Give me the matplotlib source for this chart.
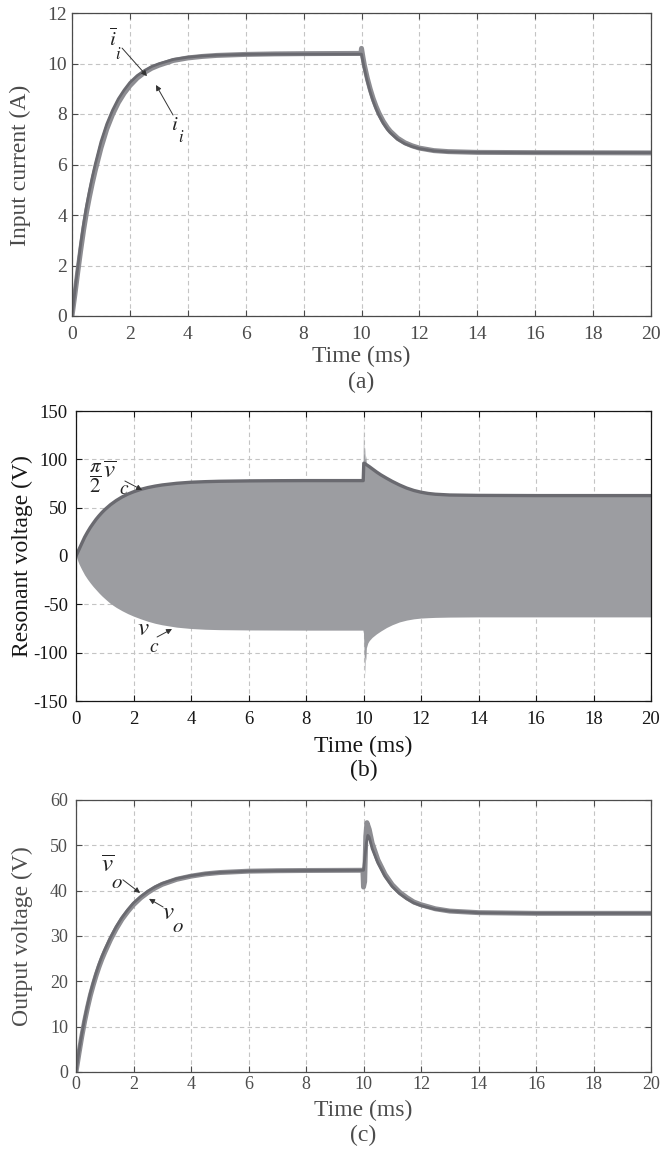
import matplotlib.pyplot as plt

plt.rcParams['font.family'] = ['Liberation Serif', 'DejaVu Serif']
plt.rcParams['mathtext.fontset'] = 'stix'
plt.rcParams['axes.unicode_minus'] = False

# ---- (a) input current, A ----
t_ia_mean = [0, 0.1, 0.2, 0.3, 0.4, 0.5, 0.6, 0.7, 0.8, 0.9, 1.0, 1.2, 1.4, 1.6, 1.8, 2.0, 2.25, 2.5,
             2.75, 3.0, 3.5, 4.0, 4.5, 5.0, 6.0, 7.0, 8.0, 10.0,
             10.05, 10.1, 10.2, 10.3, 10.4, 10.5, 10.6, 10.75, 10.9, 11.0, 11.25, 11.5, 11.75, 12.0,
             12.5, 13.0, 14.0, 16.0, 20.0]
ia_mean = [0, 1.0, 1.95, 2.85, 3.65, 4.35, 4.95, 5.5, 6.0, 6.45, 6.9, 7.6, 8.15, 8.6, 8.95, 9.25, 9.52,
           9.72, 9.88, 9.99, 10.16, 10.25, 10.3, 10.33, 10.36, 10.37, 10.37, 10.37,
           10.07, 9.79, 9.29, 8.87, 8.51, 8.21, 7.95, 7.63, 7.38, 7.25, 6.99, 6.82, 6.71, 6.63,
           6.54, 6.5, 6.48, 6.47, 6.47]
t_ia = [0, 0.1, 0.2, 0.3, 0.4, 0.5, 0.6, 0.7, 0.8, 0.9, 1.0, 1.2, 1.4, 1.6, 1.8, 2.0, 2.25, 2.5,
        2.75, 3.0, 3.5, 4.0, 4.5, 5.0, 6.0, 7.0, 8.0, 9.98,
        10.0, 10.05, 10.1, 10.2, 10.3, 10.4, 10.5, 10.6, 10.75, 10.9, 11.0, 11.25, 11.5, 11.75, 12.0,
        12.5, 13.0, 14.0, 16.0, 20.0]
ia = [0, 0.85, 1.75, 2.6, 3.4, 4.1, 4.7, 5.25, 5.75, 6.2, 6.65, 7.4, 7.98, 8.45, 8.82, 9.12, 9.42,
      9.64, 9.81, 9.93, 10.12, 10.22, 10.28, 10.32, 10.36, 10.38, 10.39, 10.4,
      10.6, 10.25, 9.93, 9.42, 8.99, 8.62, 8.31, 8.04, 7.71, 7.45, 7.31, 7.04, 6.86, 6.74, 6.65,
      6.55, 6.51, 6.48, 6.47, 6.46]

# ---- (b) resonant voltage, V ----
t_vc_env = [0, 0.1, 0.2, 0.3, 0.4, 0.5, 0.6, 0.7, 0.8, 0.9, 1.0, 1.2, 1.4, 1.6, 1.8, 2.0, 2.25, 2.5,
            2.75, 3.0, 3.5, 4.0, 4.5, 5.0, 6.0, 7.0, 8.0, 9.98,
            10.0, 10.02, 10.04, 10.06, 10.08, 10.1, 10.15, 10.2, 10.3, 10.45, 10.6, 10.8, 11.0,
            11.25, 11.5, 11.75, 12.0, 12.25, 12.5, 13.0, 14.0, 16.0, 20.0]
vc_upper = [0, 6.5, 13, 19.4, 24.7, 29.6, 33.9, 38, 41.6, 44.9, 47.9, 53.1, 57.4, 61, 64, 66.4, 68.9,
            70.8, 72.3, 73.5, 75.2, 76.3, 76.9, 77.3, 77.7, 77.9, 78, 78,
            134, 104, 113, 99, 104, 94.5, 93.5, 92.5, 90.3, 87, 84, 80.5, 77.2,
            73.5, 70.3, 67.8, 66, 64.7, 63.9, 63.1, 62.7, 62.5, 62.5]
vc_lower = [0, -8, -14, -19.5, -24, -28, -31.7, -35, -38.3, -41.3, -44, -49.2, -53.2, -56.6, -59.6,
            -62.2, -65, -67.5, -69.6, -71.2, -73.6, -75, -75.8, -76.2, -76.5, -76.6, -76.7, -76.7,
            -80, -100, -123, -104, -108, -95, -90, -87.5, -84.2, -80.6, -77.6, -74, -71.1,
            -68.2, -66.3, -65, -64.2, -63.8, -63.5, -63.2, -63, -63, -63]
t_vc_mean = [0, 0.1, 0.2, 0.3, 0.4, 0.5, 0.6, 0.7, 0.8, 0.9, 1.0, 1.2, 1.4, 1.6, 1.8, 2.0, 2.25, 2.5,
             2.75, 3.0, 3.5, 4.0, 4.5, 5.0, 6.0, 7.0, 8.0,
             9.99, 10.01, 10.05, 10.1, 10.2, 10.3, 10.45, 10.6, 10.8, 11.0, 11.25, 11.5, 11.75, 12.0,
             12.25, 12.5, 13.0, 14.0, 16.0, 20.0]
vc_mean = [0, 6.5, 13, 19.4, 24.7, 29.6, 33.9, 38, 41.6, 44.9, 47.9, 53.1, 57.4, 61, 64, 66.4, 68.9,
           70.8, 72.3, 73.5, 75.2, 76.3, 76.9, 77.3, 77.7, 77.9, 78,
           78, 96, 95.5, 94.5, 92.5, 90.3, 87, 84, 80.5, 77.2, 73.5, 70.3, 67.8, 66,
           64.7, 63.9, 63.1, 62.7, 62.5, 62.5]

# ---- (c) output voltage, V ----
t_vo_mean = [0, 0.1, 0.2, 0.3, 0.4, 0.5, 0.6, 0.7, 0.8, 0.9, 1.0, 1.2, 1.4, 1.6, 1.8, 2.0, 2.25, 2.5,
             2.75, 3.0, 3.5, 4.0, 4.5, 5.0, 6.0, 7.0, 8.0, 10.0,
             10.05, 10.1, 10.15, 10.2, 10.3, 10.5, 10.75, 11.0, 11.25, 11.5, 11.75, 12.0, 12.5,
             13.0, 14.0, 16.0, 20.0]
vo_mean = [0, 4.5, 8.3, 11.8, 14.8, 17.5, 19.8, 21.9, 23.8, 25.5, 27.0, 29.7, 32.1, 34.1, 35.8, 37.3,
           38.7, 39.9, 40.85, 41.6, 42.65, 43.3, 43.76, 44.03, 44.3, 44.4, 44.45, 44.5,
           47.5, 50.5, 52.2, 51.8, 49.3, 46.1, 43.1, 40.9, 39.35, 38.2, 37.3, 36.7, 35.9,
           35.5, 35.14, 35.0, 35.0]
t_vo = [0, 0.1, 0.2, 0.3, 0.4, 0.5, 0.6, 0.7, 0.8, 0.9, 1.0, 1.2, 1.4, 1.6, 1.8, 2.0, 2.25, 2.5,
        2.75, 3.0, 3.5, 4.0, 4.5, 5.0, 6.0, 7.0, 8.0, 9.98,
        10.0, 10.04, 10.08, 10.12, 10.2, 10.3, 10.5, 10.75, 11.0, 11.25, 11.5, 11.75, 12.0, 12.5,
        13.0, 14.0, 16.0, 20.0]
vo = [0, 4.0, 7.8, 11.2, 14.2, 16.9, 19.2, 21.3, 23.2, 24.9, 26.4, 29.2, 31.6, 33.7, 35.4, 36.9,
      38.4, 39.6, 40.6, 41.4, 42.5, 43.2, 43.7, 44.0, 44.3, 44.4, 44.45, 44.5,
      40.8, 42, 52, 55, 53.5, 50.5, 46.8, 43.6, 41.3, 39.7, 38.5, 37.5, 36.9, 36.0,
      35.5, 35.15, 35.0, 35.0]

x_ticks = [0, 2, 4, 6, 8, 10, 12, 14, 16, 18, 20]

W, H = 661, 1149
fig = plt.figure(figsize=(W / 100, H / 100), dpi=100)

LIGHT = '#8d8d92'
DARK = '#6a6a70'
FILL = '#9c9da1'
INK = '#222222'


def px_axes(left, top, right, bottom):
    return fig.add_axes([left / W, 1 - bottom / H, (right - left) / W, (bottom - top) / H])


def style(ax, color, size, pad_x, pad_y):
    for s in ax.spines.values():
        s.set_color(color)
        s.set_linewidth(0.9)
    ax.tick_params(direction='in', top=True, right=True, length=4, width=0.8,
                   color=color, labelcolor=color, labelsize=size)
    ax.tick_params(axis='x', pad=pad_x)
    ax.tick_params(axis='y', pad=pad_y)
    ax.grid(True, color='#c4c4c4', linestyle=(0, (4, 3)), linewidth=0.8)
    ax.set_axisbelow(True)
    ax.set_xlim(0, 20)
    ax.set_xticks(x_ticks)


def ftext(x, y, s, color, size, **kw):
    fig.text(x / W, 1 - y / H, s, color=color, fontsize=size, ha='center', va='center', **kw)


def arrow(ax, start, end):
    ax.annotate('', xy=end, xytext=start,
                arrowprops=dict(arrowstyle='-|>', lw=0.7, color='#333333',
                                mutation_scale=8, shrinkA=0, shrinkB=0))


# (a)
ca = '#4a4a4a'
ax1 = px_axes(72, 13, 651, 316)
style(ax1, ca, 14, 7.5, 3.5)
ax1.plot(t_ia, ia, color=LIGHT, lw=3.6)
ax1.plot(t_ia_mean, ia_mean, color=DARK, lw=2.0)
ax1.set_ylim(0, 12)
ax1.set_yticks([0, 2, 4, 6, 8, 10, 12])
ftext(113, 40, r'$\overline{i}$', INK, 15)
ftext(118, 55, r'$i$', INK, 12)
arrow(ax1, (1.73, 10.61), (2.59, 9.5))
ftext(175, 125, r'$i$', INK, 15)
ftext(181, 138, r'$i$', INK, 12)
arrow(ax1, (3.49, 7.96), (2.9, 9.15))
ftext(20, 165, 'Input current (A)', ca, 17, rotation=90)
ftext(361.5, 356, 'Time (ms)', ca, 17)
ftext(361.5, 382, '(a)', ca, 17)

# (b)
cb = '#161616'
ax2 = px_axes(76, 411, 651, 701)
style(ax2, cb, 13.5, 7, 5.8)
ax2.fill_between(t_vc_env, vc_lower, vc_upper, color=FILL, lw=0)
ax2.plot(t_vc_mean, vc_mean, color=DARK, lw=2.4)
ax2.set_ylim(-150, 150)
ax2.set_yticks([-150, -100, -50, 0, 50, 100, 150])
ftext(96, 478, r'$\dfrac{\pi}{2}$', INK, 15)
ftext(110, 472, r'$\overline{v}$', INK, 18)
ftext(124, 489, r'$c$', INK, 14)
arrow(ax2, (1.70, 77.6), (2.30, 68.3))
ftext(143, 629, r'$v$', INK, 18)
ftext(154, 647, r'$c$', INK, 14)
arrow(ax2, (2.82, -83.8), (3.34, -75.5))
ftext(22, 556, 'Resonant voltage (V)', cb, 17, rotation=90)
ftext(363.5, 746, 'Time (ms)', cb, 17)
ftext(363.5, 770, '(b)', cb, 17)

# (c)
cc = '#4d4d4d'
ax3 = px_axes(76, 800, 651, 1072)
style(ax3, cc, 13, 3, 5.8)
ax3.plot(t_vo, vo, color=LIGHT, lw=3.6)
ax3.plot(t_vo_mean, vo_mean, color=DARK, lw=2.0)
ax3.set_ylim(0, 60)
ax3.set_yticks([0, 10, 20, 30, 40, 50, 60])
ftext(108, 866, r'$\overline{v}$', INK, 18)
ftext(117, 883, r'$o$', INK, 15)
arrow(ax3, (1.63, 42.4), (2.23, 39.5))
ftext(168, 913, r'$v$', INK, 18)
ftext(178, 928, r'$o$', INK, 15)
arrow(ax3, (3.03, 36.4), (2.54, 38.2))
ftext(22, 936, 'Output voltage (V)', cc, 17, rotation=90)
ftext(363.5, 1110, 'Time (ms)', cc, 17)
ftext(363.5, 1135, '(c)', cc, 17)

fig.savefig('out.png', dpi=100)
